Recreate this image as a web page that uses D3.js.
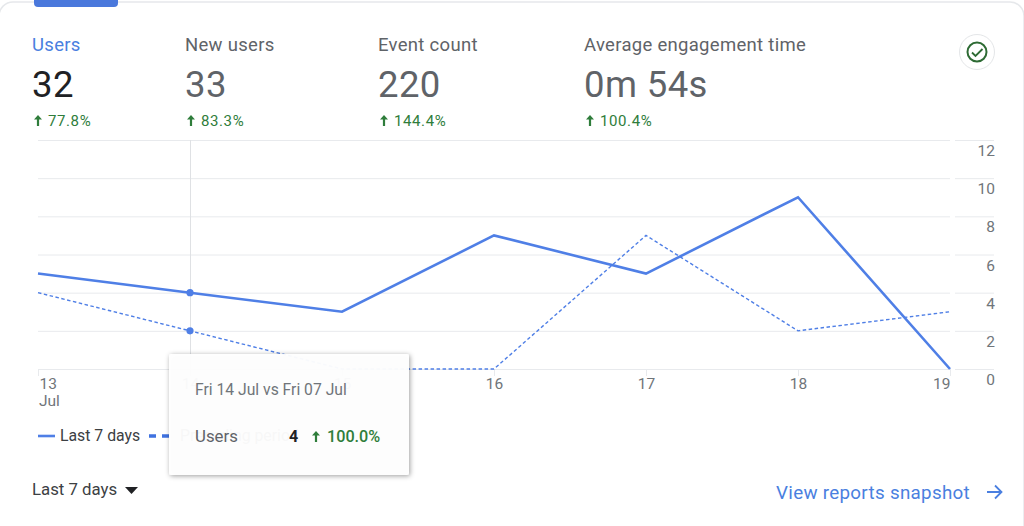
<!DOCTYPE html>
<html>
<head>
<meta charset="utf-8">
<script src="https://cdn.jsdelivr.net/npm/d3@7"></script>
<style>
body { margin: 0; background: #fff; overflow: hidden; }
text { font-family: Roboto, sans-serif; }
</style>
</head>
<body>
<div id="chart"></div>
<script>
const days = ["13", "14", "15", "16", "17", "18", "19"];
const last7 = [5, 4, 3, 7, 5, 9, 0];
const preceding = [4, 2, 0, 0, 7, 2, 3];
const yTicks = [0, 2, 4, 6, 8, 10, 12];

const metricNames = ["Users", "New users", "Event count", "Average engagement time"];
const metricValues = ["32", "33", "220", "0m 54s"];
const metricChanges = ["77.8%", "83.3%", "144.4%", "100.4%"];
const metricX = [32, 185, 378, 584];

const width = 1024, height = 526;
const blue = "#4f7fe6", green = "#2f7d3b", grey = "#5f6368";

const svg = d3.select("#chart").append("svg").attr("width", width).attr("height", height);

// small up arrow, same shape everywhere
function upArrow(ax, base, col) {
	svg.append("path").attr("d", "M" + ax + "," + (base - 11) + "l-4,4.5h2.9v6.5h2.2v-6.5h2.9Z").attr("fill", col);
}

// card outline
svg.append("rect").attr("x", -1).attr("y", 2).attr("width", width + 1).attr("height", height + 20)
	.attr("rx", 14).attr("fill", "#fff").attr("stroke", "#e6e8eb").attr("stroke-width", 1.5);
svg.append("path").attr("d", "M34,0H118V3a4,4 0 0 1 -4,4H38a4,4 0 0 1 -4,-4Z").attr("fill", "#4a78dc");

// metric headers
metricNames.forEach(function(name, i) {
	const mx = metricX[i];
	svg.append("text").attr("x", mx).attr("y", 50.5).attr("font-size", 18.5).attr("letter-spacing", 0.3)
		.attr("fill", i == 0 ? "#4a7fe0" : grey).text(name);
	svg.append("text").attr("x", mx).attr("y", 97).attr("font-size", 36.5).attr("letter-spacing", 0.4)
		.attr("fill", i == 0 ? "#202124" : grey).text(metricValues[i]);
	upArrow(mx + 6, 126, green);
	svg.append("text").attr("x", mx + 16).attr("y", 125.5).attr("font-size", 15)
		.attr("letter-spacing", 0.6).attr("fill", green).text(metricChanges[i]);
});

// check badge
svg.append("circle").attr("cx", 977).attr("cy", 52).attr("r", 17.5).attr("fill", "#fff").attr("stroke", "#e4e6e8");
svg.append("circle").attr("cx", 977).attr("cy", 52).attr("r", 9.5).attr("fill", "none").attr("stroke", "#2e6b34").attr("stroke-width", 2);
svg.append("path").attr("d", "M972,52.5l3.5,3.5l7,-7").attr("fill", "none").attr("stroke", "#2e6b34").attr("stroke-width", 1.8);

// scales
const x = d3.scalePoint().domain(days).range([38, 950]);
const y = d3.scaleLinear().domain([0, 12]).range([369, 140]);

// grid + right axis
const yAxis = d3.axisRight(y).tickValues(yTicks).tickSize(0).tickPadding(0);
const yG = svg.append("g").call(yAxis);
yG.select(".domain").remove();
yG.selectAll("text").attr("x", 995).attr("dy", "0").attr("y", 15.5).attr("text-anchor", "end")
	.attr("font-size", 15.5).attr("font-family", "Roboto").attr("fill", "#70757a");
yG.selectAll(".tick").append("line").attr("x1", 38).attr("x2", 950).attr("stroke", "#e8eaed");
yG.selectAll(".tick").append("line").attr("x1", 955).attr("x2", 994).attr("stroke", "#e8eaed");

// bottom axis
const xAxis = d3.axisBottom(x).tickSize(7).tickPadding(2).tickSizeOuter(0);
const xG = svg.append("g").attr("transform", "translate(0,369)").call(xAxis);
xG.select(".domain").remove();
xG.selectAll("line").attr("stroke", "#e8eaed");
xG.selectAll("text").attr("font-size", 15.5).attr("font-family", "Roboto").attr("fill", "#70757a");
svg.append("text").attr("x", 39).attr("y", 406).attr("font-size", 15.5).attr("fill", "#70757a").text("Jul");
xG.selectAll(".tick").filter(function(d) { return d == "13"; }).select("text")
	.attr("text-anchor", "start").attr("x", 1);
xG.selectAll(".tick").filter(function(d) { return d == "19"; }).select("text")
	.attr("text-anchor", "end").attr("x", 0);

// hover line
svg.append("line").attr("x1", x("14") + 0.5).attr("x2", x("14") + 0.5).attr("y1", 140).attr("y2", 369).attr("stroke", "#dfe1e4");

// series
const line = d3.line().x(function(d, i) { return x(days[i]); }).y(function(d) { return y(d); });
svg.append("path").datum(preceding).attr("d", line).attr("fill", "none").attr("stroke", blue)
	.attr("stroke-width", 1.4).attr("stroke-dasharray", "3.5,2.5");
svg.append("path").datum(last7).attr("d", line).attr("fill", "none").attr("stroke", blue).attr("stroke-width", 2.6);
svg.append("circle").attr("cx", x("14")).attr("cy", y(last7[1])).attr("r", 3.6).attr("fill", blue);
svg.append("circle").attr("cx", x("14")).attr("cy", y(preceding[1])).attr("r", 3.6).attr("fill", blue);

// legend
svg.append("line").attr("x1", 38).attr("x2", 55).attr("y1", 436).attr("y2", 436).attr("stroke", blue).attr("stroke-width", 2.6);
svg.append("text").attr("x", 60).attr("y", 441).attr("font-size", 15.8).attr("fill", "#3c4043").text("Last 7 days");
svg.append("line").attr("x1", 149).attr("x2", 170).attr("y1", 436).attr("y2", 436).attr("stroke", "#3f72e0")
	.attr("stroke-width", 3.6).attr("stroke-dasharray", "7,6");
svg.append("text").attr("x", 180).attr("y", 441).attr("font-size", 15.8).attr("fill", "#3c4043").text("Preceding period");

// date range + link
svg.append("text").attr("x", 32).attr("y", 495).attr("font-size", 16.8).attr("fill", "#3c4043").text("Last 7 days");
svg.append("path").attr("d", "M125,487h13l-6.5,7Z").attr("fill", "#202124");
svg.append("text").attr("x", 776).attr("y", 498.5).attr("font-size", 18.8).attr("letter-spacing", 0.3).attr("fill", "#4a7fe0").text("View reports snapshot");
svg.append("path").attr("d", "M987,492h14M995,485.5l6.5,6.5l-6.5,6.5").attr("fill", "none").attr("stroke", "#4a7fe0").attr("stroke-width", 1.8);

// tooltip
const defs = svg.append("defs");
const blur = defs.append("filter").attr("id", "shadow").attr("x", "-10%").attr("y", "-10%").attr("width", "120%").attr("height", "125%");
blur.append("feDropShadow").attr("dx", 1).attr("dy", 1).attr("stdDeviation", 2.5).attr("flood-color", "#000").attr("flood-opacity", 0.4);
svg.append("rect").attr("x", 169).attr("y", 354).attr("width", 240).attr("height", 121).attr("rx", 2)
	.attr("fill", "#fff").attr("fill-opacity", 0.95).attr("filter", "url(#shadow)");
svg.append("text").attr("x", 195).attr("y", 395).attr("font-size", 15.7).attr("fill", "#70757a").text("Fri 14 Jul vs Fri 07 Jul");
svg.append("text").attr("x", 195).attr("y", 441.5).attr("font-size", 16.8).attr("fill", "#5f6368").text("Users");
svg.append("text").attr("x", 289).attr("y", 441.5).attr("font-size", 16).attr("font-weight", 700).attr("fill", "#202124").text(last7[1]);
upArrow(316, 442, green);
svg.append("text").attr("x", 327).attr("y", 441.5).attr("font-size", 16.2).attr("font-weight", 500).attr("fill", green).text("100.0%");
</script>
</body>
</html>
